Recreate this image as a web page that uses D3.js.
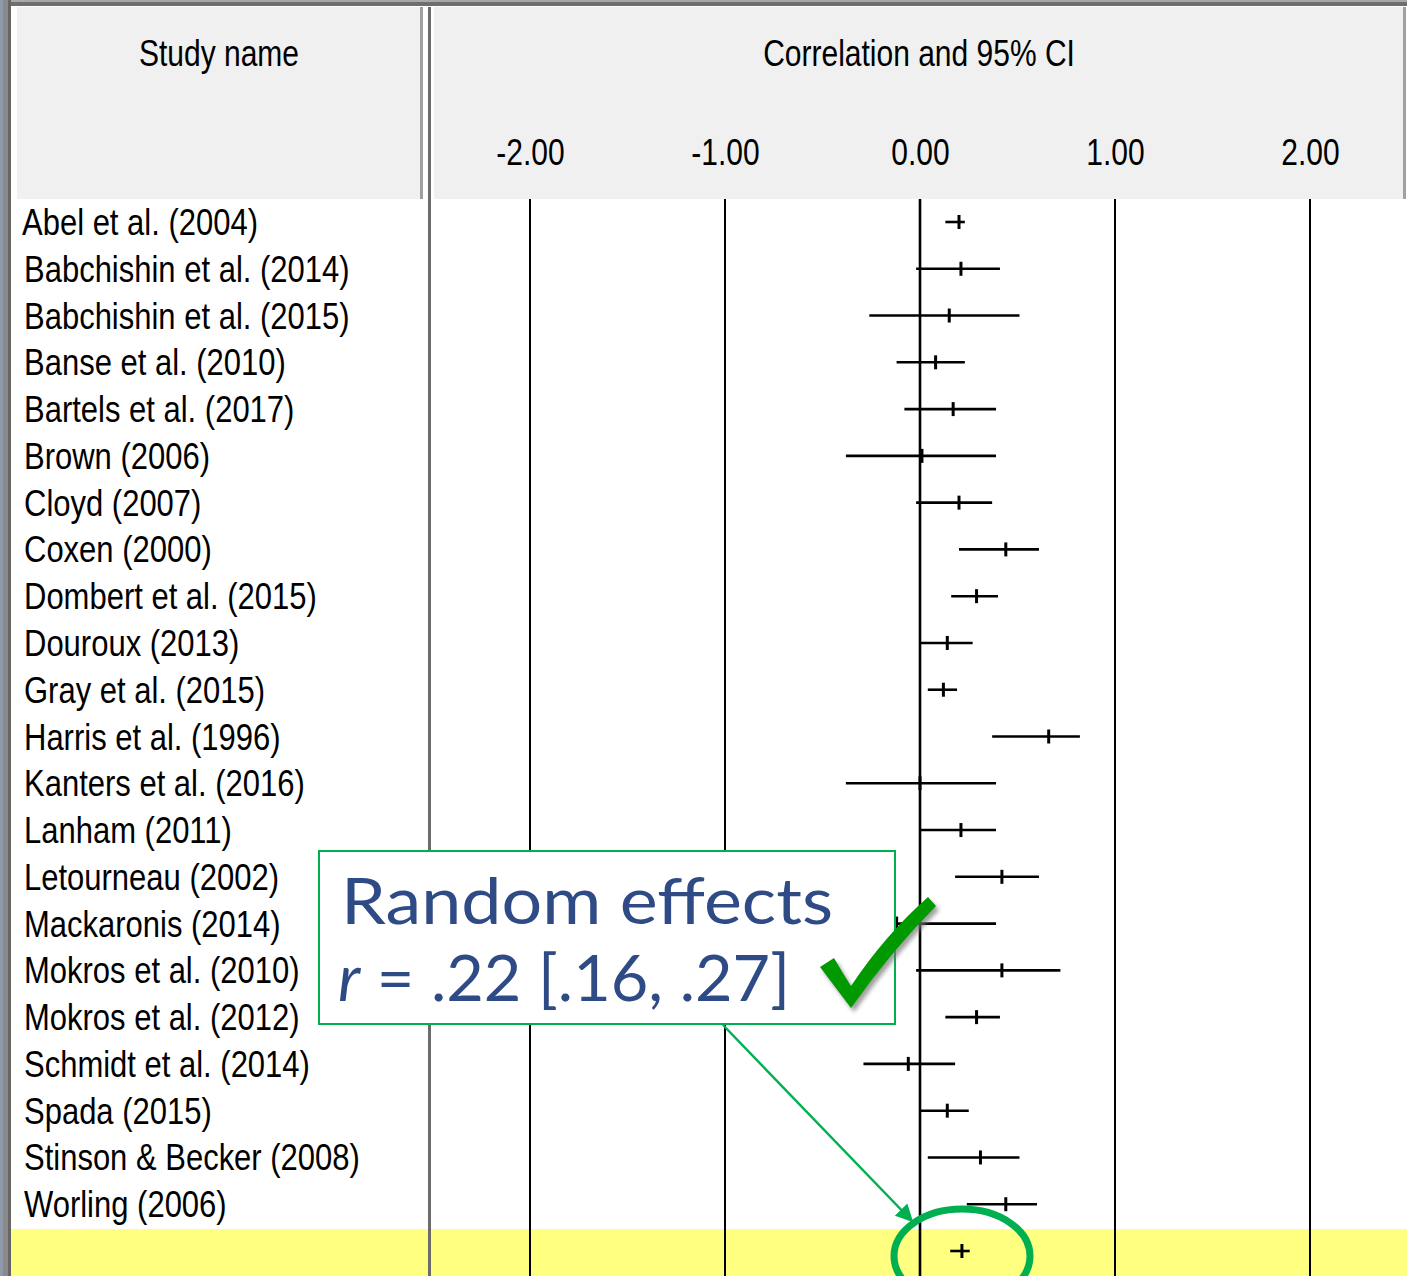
<!DOCTYPE html>
<html>
<head>
<meta charset="utf-8">
<script src="https://cdn.jsdelivr.net/npm/d3@7"></script>
<style>
  html, body { margin: 0; padding: 0; background: #ffffff; }
  svg { display: block; }
</style>
</head>
<body>
<script>
// ---------- DATA ----------
const studies = [
  "Abel et al. (2004)", "Babchishin et al. (2014)", "Babchishin et al. (2015)",
  "Banse et al. (2010)", "Bartels et al. (2017)", "Brown (2006)", "Cloyd (2007)",
  "Coxen (2000)", "Dombert et al. (2015)", "Douroux (2013)", "Gray et al. (2015)",
  "Harris et al. (1996)", "Kanters et al. (2016)", "Lanham (2011)",
  "Letourneau (2002)", "Mackaronis (2014)", "Mokros et al. (2010)",
  "Mokros et al. (2012)", "Schmidt et al. (2014)", "Spada (2015)",
  "Stinson & Becker (2008)", "Worling (2006)"
];
const correlations = [0.20, 0.21, 0.15, 0.08, 0.17, 0.01, 0.20, 0.44, 0.29, 0.14, 0.12,
                      0.66, 0.00, 0.21, 0.42, -0.12, 0.42, 0.29, -0.06, 0.14, 0.31, 0.44];
const lowerCI = [0.13, -0.02, -0.26, -0.12, -0.08, -0.38, -0.02, 0.20, 0.16, 0.00, 0.04,
                 0.37, -0.38, 0.00, 0.18, -0.55, -0.02, 0.13, -0.29, 0.00, 0.04, 0.24];
const upperCI = [0.23, 0.41, 0.51, 0.23, 0.39, 0.39, 0.37, 0.61, 0.40, 0.27, 0.19,
                 0.82, 0.39, 0.39, 0.61, 0.39, 0.72, 0.41, 0.18, 0.25, 0.51, 0.60];
const summary = { r: 0.215, lo: 0.155, hi: 0.255 };
const tickValues = [-2, -1, 0, 1, 2];
const tickLabels = ["-2.00", "-1.00", "0.00", "1.00", "2.00"];
const headerStudy = "Study name";
const headerPlot = "Correlation and 95% CI";
const noteLine1 = "Random effects";
const noteR = "r";
const noteLine2 = " = .22 [.16, .27]";

// ---------- LAYOUT ----------
const W = 1407, H = 1276;
const sysFont = "'Liberation Sans', Arial, sans-serif";
const svg = d3.select("body").append("svg").attr("width", W).attr("height", H);

const x = d3.scaleLinear().domain([-2, 2]).range([530, 1310]);
const y = d3.scaleLinear().domain([0, studies.length]).range([222, 1251]);

// background frame
svg.append("rect").attr("x", 0).attr("y", 0).attr("width", W).attr("height", H).attr("fill", "#ffffff");
// top border
svg.append("rect").attr("x", 0).attr("y", 0).attr("width", W).attr("height", 2).attr("fill", "#a8a8a8");
svg.append("rect").attr("x", 0).attr("y", 2).attr("width", W).attr("height", 4).attr("fill", "#6e6e6e");
// left border
svg.append("rect").attr("x", 0).attr("y", 0).attr("width", 3).attr("height", H).attr("fill", "#8e9aaa");
svg.append("rect").attr("x", 3).attr("y", 0).attr("width", 5).attr("height", H).attr("fill", "#8a8a8a");
svg.append("rect").attr("x", 8).attr("y", 0).attr("width", 3).attr("height", H).attr("fill", "#666666");

// header backgrounds
svg.append("rect").attr("x", 17).attr("y", 7).attr("width", 403).attr("height", 192).attr("fill", "#f0f0f0");
svg.append("rect").attr("x", 420).attr("y", 7).attr("width", 3).attr("height", 192).attr("fill", "#a0a0a0");
svg.append("rect").attr("x", 434).attr("y", 7).attr("width", 969).attr("height", 192).attr("fill", "#f0f0f0");
svg.append("rect").attr("x", 1403).attr("y", 7).attr("width", 3).attr("height", 192).attr("fill", "#a0a0a0");

// summary row (yellow)
svg.append("rect").attr("x", 11).attr("y", 1229).attr("width", W - 11).attr("height", H - 1229).attr("fill", "#ffff80");

// column divider
svg.append("rect").attr("x", 428).attr("y", 7).attr("width", 3).attr("height", H - 7).attr("fill", "#6b6b6b");

// helper for stretched raster-like text
function sysText(g, txt, tx, ty, size, anchor) {
  return g.append("text")
    .attr("transform", `translate(${tx},${ty}) scale(1,1.22)`)
    .attr("text-anchor", anchor)
    .attr("font-family", sysFont)
    .attr("font-size", size)
    .attr("fill", "#000")
    .text(txt);
}

// header texts
sysText(svg, headerStudy, 219, 66, 30, "middle");
sysText(svg, headerPlot, 919, 66, 30, "middle");

// axis tick labels using d3 axis
const axisG = svg.append("g").attr("transform", "translate(0,199)");
const axis = d3.axisTop(x).tickValues(tickValues)
  .tickFormat((d, i) => tickLabels[i]).tickSize(0).tickPadding(34);
axisG.call(axis);
axisG.select(".domain").remove();
axisG.selectAll("text")
  .attr("font-family", sysFont).attr("font-size", 30).attr("fill", "#000")
  .attr("transform", "scale(1,1.22)").attr("y", -28).attr("dy", 0);

// gridlines in body
svg.append("g").selectAll("line").data(tickValues).join("line")
  .attr("x1", d => x(d)).attr("x2", d => x(d))
  .attr("y1", 199).attr("y2", H)
  .attr("stroke", "#000").attr("stroke-width", d => d === 0 ? 2.6 : 2);

// study names
const nameG = svg.append("g");
studies.forEach((s, i) => {
  sysText(nameG, s, i === 0 ? 22 : 24, y(i) + 13, 31, "start");
});

// CI lines and point ticks
const ciG = svg.append("g");
ciG.selectAll("line.ci").data(studies).join("line").attr("class", "ci")
  .attr("x1", (d, i) => x(lowerCI[i])).attr("x2", (d, i) => x(upperCI[i]))
  .attr("y1", (d, i) => y(i)).attr("y2", (d, i) => y(i))
  .attr("stroke", "#000").attr("stroke-width", 2.6);
ciG.selectAll("line.pt").data(studies).join("line").attr("class", "pt")
  .attr("x1", (d, i) => x(correlations[i])).attr("x2", (d, i) => x(correlations[i]))
  .attr("y1", (d, i) => y(i) - 7).attr("y2", (d, i) => y(i) + 7)
  .attr("stroke", "#000").attr("stroke-width", 3);

// summary
const sy = y(studies.length);
ciG.append("line").attr("x1", x(summary.lo)).attr("x2", x(summary.hi))
  .attr("y1", sy).attr("y2", sy).attr("stroke", "#000").attr("stroke-width", 2.6);
ciG.append("line").attr("x1", x(summary.r)).attr("x2", x(summary.r))
  .attr("y1", sy - 7).attr("y2", sy + 7).attr("stroke", "#000").attr("stroke-width", 3);

// ---------- ANNOTATION ----------
const green = "#00b050";
const defs = svg.append("defs");
defs.append("marker").attr("id", "arrowhead").attr("viewBox", "0 0 10 10")
  .attr("refX", 9).attr("refY", 5).attr("markerWidth", 7).attr("markerHeight", 7)
  .attr("orient", "auto-start-reverse").attr("markerUnits", "strokeWidth")
  .append("path").attr("d", "M0,0 L10,5 L0,10 z").attr("fill", green);
const blur = defs.append("filter").attr("id", "shadow").attr("x", "-20%").attr("y", "-20%")
  .attr("width", "140%").attr("height", "140%");
blur.append("feGaussianBlur").attr("stdDeviation", 2);

svg.append("rect").attr("x", 319).attr("y", 851).attr("width", 576).attr("height", 173)
  .attr("fill", "#ffffff").attr("stroke", green).attr("stroke-width", 2);

const noteColor = "#2f4b85";
const noteFont = "Lato, 'Open Sans', sans-serif";
svg.append("text").attr("x", 341).attr("y", 924)
  .attr("font-family", noteFont).attr("font-size", 64)
  .attr("textLength", 492).attr("lengthAdjust", "spacingAndGlyphs")
  .attr("fill", noteColor).text(noteLine1);
const t2 = svg.append("text").attr("x", 338).attr("y", 1001)
  .attr("font-family", noteFont).attr("font-size", 64)
  .attr("textLength", 452).attr("lengthAdjust", "spacingAndGlyphs")
  .attr("fill", noteColor);
t2.append("tspan").attr("font-style", "italic").text(noteR);
t2.append("tspan").text(noteLine2);

// checkmark
const check = "M820,967 L834,958 Q842,972 851,986 Q885,935 928,897 L936,906 Q892,950 851,1008 Z";
svg.append("path").attr("d", check).attr("fill", "#777").attr("opacity", 0.7)
  .attr("transform", "translate(3,4)").attr("filter", "url(#shadow)");
svg.append("path").attr("d", check).attr("fill", "#009a00");

// arrow
svg.append("line").attr("x1", 723).attr("y1", 1025).attr("x2", 912).attr("y2", 1221)
  .attr("stroke", green).attr("stroke-width", 2.5).attr("marker-end", "url(#arrowhead)");

// ellipse
svg.append("ellipse").attr("cx", 962).attr("cy", 1256).attr("rx", 68).attr("ry", 47)
  .attr("fill", "none").attr("stroke", green).attr("stroke-width", 7);
</script>
</body>
</html>
